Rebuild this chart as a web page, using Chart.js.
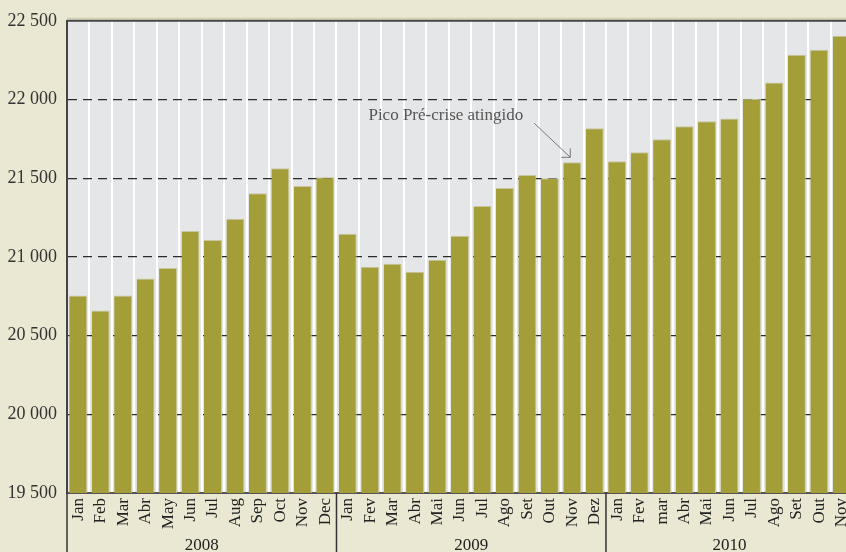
<!DOCTYPE html>
<html>
<head>
<meta charset="utf-8">
<script src="https://cdn.jsdelivr.net/npm/chart.js@4.4.0/dist/chart.umd.min.js"></script>
<style>
html, body { margin: 0; padding: 0; background: #eae8d2; overflow: hidden; }
canvas { display: block; }
</style>
</head>
<body>
<canvas id="chart" width="856" height="552"></canvas>
<script>
// rótulos dos meses (jan 2008 - nov 2010)
const months = [
    'Jan', 'Feb', 'Mar', 'Abr', 'May', 'Jun', 'Jul', 'Aug', 'Sep', 'Oct', 'Nov', 'Dec',
    'Jan', 'Fev', 'Mar', 'Abr', 'Mai', 'Jun', 'Jul', 'Ago', 'Set', 'Out', 'Nov', 'Dez',
    'Jan', 'Fev', 'mar', 'Abr', 'Mai', 'Jun', 'Jul', 'Ago', 'Set', 'Out', 'Nov'
];
const years = ['2008', '2009', '2010'];
const monthsPerYear = [12, 12, 11];

// valores
const values = [
    20755, 20660, 20755, 20862, 20930, 21165, 21108, 21242, 21405, 21563, 21450, 21506,
    21147, 20938, 20957, 20905, 20982, 21135, 21323, 21437, 21520, 21500, 21601, 21817,
    21608, 21665, 21748, 21830, 21862, 21880, 22005, 22108, 22285, 22316, 22405
];
const yTicks = [19500, 20000, 20500, 21000, 21500, 22000, 22500];

const peakText = 'Pico Pré-crise atingido';
const peakIndex = 22;

const serif = '"Liberation Serif", "DejaVu Serif", serif';

function fmt(v) {
    return String(v).replace(/\B(?=(\d{3})+(?!\d))/g, ' ');
}

// fundo, anos e anotação
const decor = {
    id: 'decor',
    beforeDraw(chart) {
        const { ctx, chartArea: a } = chart;
        ctx.save();
        ctx.fillStyle = '#eae8d2';
        ctx.fillRect(0, 0, chart.width, chart.height);
        ctx.fillStyle = '#e5e6e8';
        ctx.fillRect(a.left, a.top, a.right - a.left, a.bottom - a.top);
        ctx.restore();
    },
    afterDraw(chart) {
        const { ctx, chartArea: a, scales: { x } } = chart;
        ctx.save();

        // linha superior
        ctx.strokeStyle = '#cbc6b0';
        ctx.lineWidth = 1;
        ctx.beginPath();
        ctx.moveTo(a.left, a.top - 2.5);
        ctx.lineTo(a.right, a.top - 2.5);
        ctx.stroke();
        ctx.strokeStyle = '#444';
        ctx.lineWidth = 2;
        ctx.beginPath();
        ctx.moveTo(a.left, a.top);
        ctx.lineTo(a.right, a.top);
        ctx.stroke();

        // separadores e anos
        const w = x.getPixelForValue(1) - x.getPixelForValue(0);
        let start = 0;
        ctx.font = '17px ' + serif;
        ctx.textAlign = 'center';
        ctx.textBaseline = 'middle';
        monthsPerYear.forEach((n, i) => {
            const x0 = x.getPixelForValue(start) - w / 2;
            const x1 = x0 + n * w;
            ctx.strokeStyle = '#333';
            ctx.lineWidth = 1.5;
            ctx.beginPath();
            ctx.moveTo(x0, a.bottom);
            ctx.lineTo(x0, chart.height);
            ctx.stroke();
            ctx.fillStyle = '#222';
            ctx.fillText(years[i], (x0 + x1) / 2, a.bottom + 53);
            start += n;
        });

        // anotação
        const bar = chart.getDatasetMeta(0).data[peakIndex];
        const ex = bar.x - 2, ey = bar.y - 5;
        const sx = bar.x - 38, sy = bar.y - 39;
        ctx.strokeStyle = '#777';
        ctx.lineWidth = 1;
        ctx.beginPath();
        ctx.moveTo(sx, sy);
        ctx.lineTo(ex, ey);
        ctx.moveTo(ex - 9, ey);
        ctx.lineTo(ex, ey);
        ctx.lineTo(ex, ey - 9);
        ctx.stroke();
        ctx.fillStyle = '#555';
        ctx.font = '17px ' + serif;
        ctx.textAlign = 'right';
        ctx.fillText(peakText, bar.x - 49, bar.y - 47);
        ctx.restore();
    }
};

new Chart(document.getElementById('chart'), {
    type: 'bar',
    data: {
        labels: months,
        datasets: [{
            data: values,
            backgroundColor: '#a39e37',
            borderColor: '#c8c59f',
            borderWidth: { top: 1, right: 1, left: 0, bottom: 0 },
            borderSkipped: 'bottom',
            barPercentage: 0.8,
            categoryPercentage: 1
        }]
    },
    options: {
        responsive: false,
        animation: false,
        layout: { padding: { top: 19, right: 3, left: 0, bottom: 0 } },
        plugins: { legend: { display: false }, tooltip: { enabled: false } },
        scales: {
            x: {
                afterFit(scale) {
                    scale.height = 59;
                    scale.paddingLeft = 0;
                    scale.paddingRight = 0;
                },
                grid: { color: '#ffffff', lineWidth: 2, offset: true, drawTicks: false },
                border: { color: '#555', width: 2 },
                ticks: {
                    autoSkip: false,
                    minRotation: 90,
                    maxRotation: 90,
                    padding: 5,
                    color: '#222',
                    font: { family: serif, size: 17 }
                }
            },
            y: {
                min: yTicks[0],
                max: yTicks[yTicks.length - 1],
                afterFit(scale) { scale.width = 67; },
                afterBuildTicks(scale) { scale.ticks = yTicks.map(v => ({ value: v })); },
                grid: {
                    drawTicks: false,
                    lineWidth: 1.3,
                    color: c => (c.tick && (c.tick.value === yTicks[0] || c.tick.value === yTicks[yTicks.length - 1])) ? 'rgba(0,0,0,0)' : '#2b2b2b'
                },
                border: { color: '#444', width: 2, dash: [9, 6] },
                ticks: {
                    padding: 10,
                    color: '#333',
                    font: { family: serif, size: 18 },
                    callback: v => fmt(v)
                }
            }
        }
    },
    plugins: [decor]
});
</script>
</body>
</html>
